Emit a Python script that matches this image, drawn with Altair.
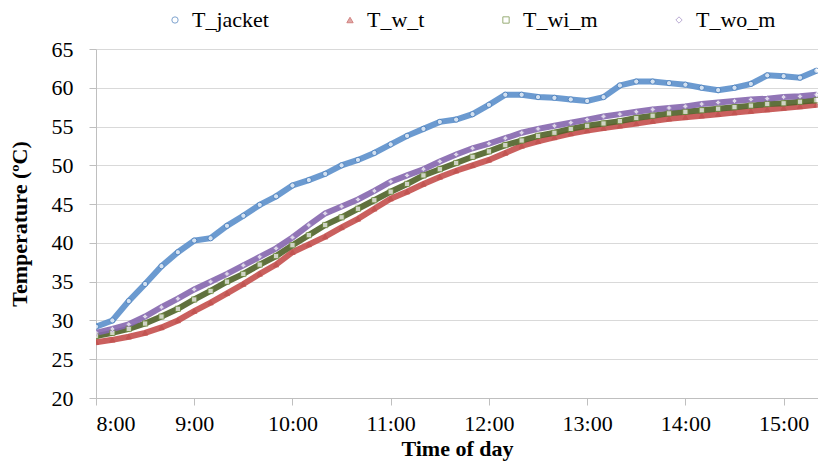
import altair as alt
import pandas as pd

# minutes after 8:00
minutes = [0, 10, 20, 30, 40, 50, 60, 70, 80, 90, 100, 110, 120, 130, 140,
           150, 160, 170, 180, 190, 200, 210, 220, 230, 240, 250, 260, 270,
           280, 290, 300, 310, 320, 330, 340, 350, 360, 370, 380, 390, 400,
           410, 420, 430, 440]

t_jacket = [29.2, 30.0, 32.5, 34.7, 37.0, 38.8, 40.3, 40.6, 42.2, 43.5, 44.9,
            46.0, 47.4, 48.1, 48.9, 50.0, 50.7, 51.6, 52.7, 53.8, 54.7, 55.6,
            55.9, 56.6, 57.8, 59.1, 59.1, 58.8, 58.7, 58.5, 58.3, 58.8, 60.3,
            60.8, 60.8, 60.6, 60.4, 60.0, 59.7, 60.0, 60.5, 61.6, 61.5, 61.3,
            62.2]

t_w_t = [27.2, 27.5, 27.9, 28.4, 29.1, 30.0, 31.2, 32.3, 33.5, 34.7, 36.0,
         37.2, 38.8, 39.8, 40.8, 42.0, 43.1, 44.4, 45.7, 46.6, 47.6, 48.5,
         49.3, 50.0, 50.7, 51.6, 52.5, 53.1, 53.6, 54.1, 54.5, 54.8, 55.1,
         55.4, 55.7, 56.0, 56.2, 56.4, 56.6, 56.8, 57.0, 57.2, 57.4, 57.6,
         57.8]

t_wi_m = [28.0, 28.4, 28.9, 29.6, 30.5, 31.5, 32.7, 33.8, 35.0, 36.0, 37.2,
          38.3, 39.7, 41.0, 42.3, 43.3, 44.4, 45.5, 46.6, 47.6, 48.7, 49.5,
          50.3, 51.1, 51.8, 52.6, 53.2, 53.8, 54.2, 54.7, 55.1, 55.4, 55.7,
          56.1, 56.4, 56.7, 56.9, 57.1, 57.3, 57.5, 57.7, 57.9, 58.0, 58.2,
          58.4]

t_wo_m = [28.4, 28.9, 29.5, 30.5, 31.7, 32.8, 34.0, 35.0, 36.0, 37.1, 38.2,
          39.3, 40.7, 42.3, 43.8, 44.7, 45.6, 46.7, 47.9, 48.7, 49.5, 50.5,
          51.4, 52.2, 52.8, 53.5, 54.2, 54.7, 55.1, 55.5, 55.9, 56.3, 56.6,
          56.9, 57.2, 57.4, 57.6, 57.9, 58.1, 58.3, 58.5, 58.6, 58.8, 58.9,
          59.1]

series_names = ["T_jacket", "T_w_t", "T_wi_m", "T_wo_m"]
series_values = [t_jacket, t_w_t, t_wi_m, t_wo_m]
line_colors = ["#5B8FCB", "#C44F4C", "#4F6228", "#8566AE"]
stroke_colors = ["#4A7EBB", "#C0504D", "#6E8B3D", "#A08BC4"]
fill_colors = ["#FFFFFF", "#C0504D", "#FFFFFF", "#FFFFFF"]
shapes = ["circle", "triangle-up", "square", "diamond"]

hour_ticks = [0, 60, 120, 180, 240, 300, 360, 420]
temp_ticks = [20, 25, 30, 35, 40, 45, 50, 55, 60, 65]

rows = []
for name, vals in zip(series_names, series_values):
    for m, v in zip(minutes, vals):
        rows.append({"minute": m, "temp": v, "series": name})
df = pd.DataFrame(rows)

FONT = "Liberation Serif"

x_enc = alt.X(
    "minute:Q",
    scale=alt.Scale(domain=[0, 441], nice=False, zero=False),
    axis=alt.Axis(
        values=hour_ticks,
        labelExpr="(floor(datum.value / 60) + 8) + ':00'",
        title="Time of day",
        grid=False,
        domainColor="#BFBFBF",
        tickColor="#BFBFBF",
        tickSize=7,
        labelFontSize=22,
        labelPadding=8,
        titleFontSize=22,
        titleFontWeight="bold",
        titlePadding=4,
    ),
)
y_enc = alt.Y(
    "temp:Q",
    scale=alt.Scale(domain=[20, 65], nice=False, zero=False),
    axis=alt.Axis(
        values=temp_ticks,
        title="Temperature (ºC)",
        grid=True,
        gridColor="#D9D9D9",
        gridWidth=1,
        domainColor="#BFBFBF",
        tickColor="#BFBFBF",
        tickSize=7,
        labelFontSize=22,
        labelPadding=16,
        titleFontSize=22,
        titleFontWeight="bold",
        titlePadding=20,
    ),
)

legend = alt.Legend(
    title=None,
    orient="none",
    direction="horizontal",
    legendX=68,
    legendY=-40,
    columnPadding=70,
    labelFontSize=22,
    labelFont=FONT,
    symbolSize=40,
    symbolStrokeWidth=1,
    labelOffset=6,
)

lines = alt.Chart(df).mark_line(strokeWidth=6, opacity=0.9, clip=True).encode(
    x=x_enc,
    y=y_enc,
    color=alt.Color("series:N", scale=alt.Scale(domain=series_names, range=line_colors), legend=None),
)

points = alt.Chart(df).mark_point(filled=True, size=28, strokeWidth=1, clip=True).encode(
    x=x_enc,
    y=y_enc,
    stroke=alt.Stroke("series:N", scale=alt.Scale(domain=series_names, range=stroke_colors), legend=legend),
    fill=alt.Fill("series:N", scale=alt.Scale(domain=series_names, range=fill_colors), legend=legend),
    shape=alt.Shape("series:N", scale=alt.Scale(domain=series_names, range=shapes), legend=legend),
)

chart = (
    alt.layer(lines, points)
    .resolve_scale(color="independent")
    .properties(width=722, height=349, padding={"left": 0, "top": 1, "right": 0, "bottom": 5})
    .configure(font=FONT)
    .configure_axis(labelFont=FONT, titleFont=FONT, labelColor="#000000", titleColor="#000000")
    .configure_view(stroke=None)
)

chart.save("out.html", embed_options={"renderer": "svg", "actions": False})
